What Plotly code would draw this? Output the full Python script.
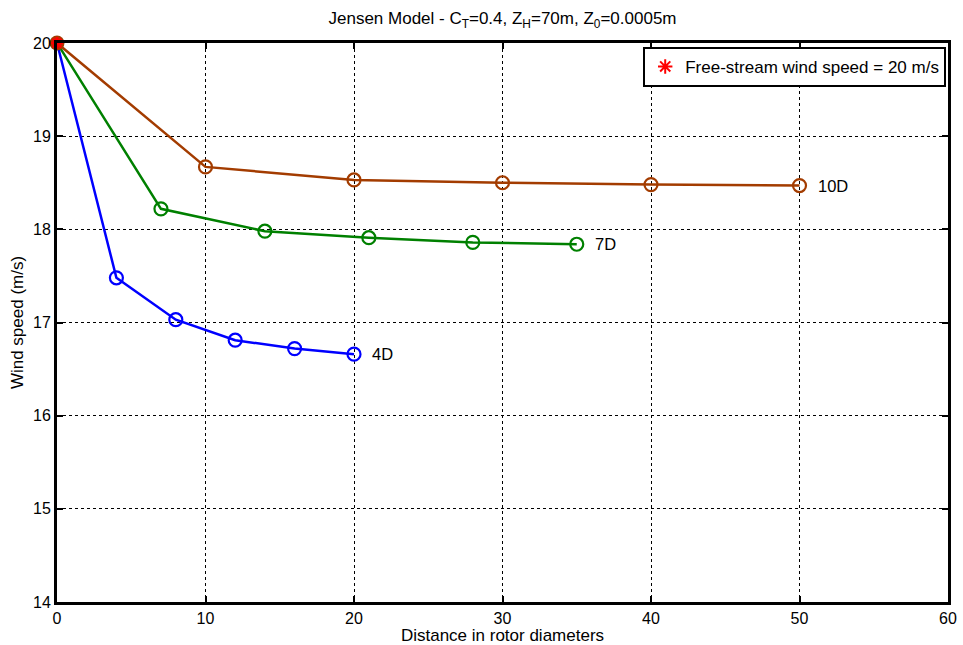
import plotly.graph_objects as go

x4 = [0, 4, 8, 12, 16, 20]
y4 = [20, 17.48, 17.03, 16.81, 16.72, 16.66]
x7 = [0, 7, 14, 21, 28, 35]
y7 = [20, 18.22, 17.98, 17.91, 17.86, 17.84]
x10 = [0, 10, 20, 30, 40, 50]
y10 = [20, 18.67, 18.53, 18.50, 18.48, 18.47]
labels = ["4D", "7D", "10D"]
free_x = [0]
free_y = [20]

c4, c7, c10 = "#0000ff", "#008000", "#a33c00"

fig = go.Figure()
for xs, ys, col, lab in [(x10, y10, c10, "10D"), (x7, y7, c7, "7D"), (x4, y4, c4, "4D")]:
    fig.add_trace(go.Scatter(x=xs, y=ys, mode="lines", line=dict(color=col, width=2.5),
                             showlegend=False, hoverinfo="skip"))
    fig.add_trace(go.Scatter(x=xs[1:], y=ys[1:], mode="markers",
                             marker=dict(symbol="circle-open", size=13, color=col, line=dict(width=2.2)),
                             showlegend=False))
    fig.add_annotation(x=xs[-1], y=ys[-1], text=lab, showarrow=False, xanchor="left",
                       xshift=16, font=dict(size=16.5, color="black"))

fig.add_trace(go.Scatter(x=free_x, y=free_y, mode="markers",
                         marker=dict(symbol="circle", size=15, color=c10), showlegend=False,
                         cliponaxis=False))
fig.add_trace(go.Scatter(x=free_x, y=free_y, mode="markers", cliponaxis=False,
                         marker=dict(symbol="asterisk-open", size=10, color="red", line=dict(width=3, color="red")),
                         name="Free-stream wind speed = 20 m/s"))

fig.update_layout(
    width=963, height=645,
    margin=dict(l=57, r=15, t=43, b=43, autoexpand=False),
    paper_bgcolor="white", plot_bgcolor="white",
    font=dict(family="Liberation Sans, Arial", size=16, color="black"),
    title=dict(text="Jensen Model - C<sub>T</sub>=0.4, Z<sub>H</sub>=70m, Z<sub>0</sub>=0.0005m",
               x=(57 + 948) / 2 / 963, xanchor="center", y=0.972, yanchor="middle",
               font=dict(size=17)),
    legend=dict(x=0.998, y=0.993, xanchor="right", yanchor="top", bgcolor="white",
                bordercolor="black", borderwidth=2, font=dict(size=17),
                itemsizing="constant", tracegroupgap=0, itemwidth=30),
    xaxis=dict(range=[0, 60], tickvals=[0, 10, 20, 30, 40, 50, 60], showgrid=True, automargin=False,
               gridcolor="black", griddash="dot", gridwidth=1, showline=True, linecolor="black",
               linewidth=3, mirror="ticks", ticks="inside", ticklen=6, tickwidth=2, tickcolor="black",
               zeroline=False, title=dict(text="Distance in rotor diameters", standoff=1, font=dict(size=17)),
               tickfont=dict(size=16)),
    yaxis=dict(range=[14, 20], tickvals=[14, 15, 16, 17, 18, 19, 20], showgrid=True, automargin=False,
               gridcolor="black", griddash="dot", gridwidth=1, showline=True, linecolor="black",
               linewidth=3, mirror="ticks", ticks="inside", ticklen=6, tickwidth=2, tickcolor="black",
               zeroline=False, title=dict(text="Wind speed (m/s)", standoff=6, font=dict(size=17)),
               tickfont=dict(size=16)),
)

fig.write_html("out.html")
